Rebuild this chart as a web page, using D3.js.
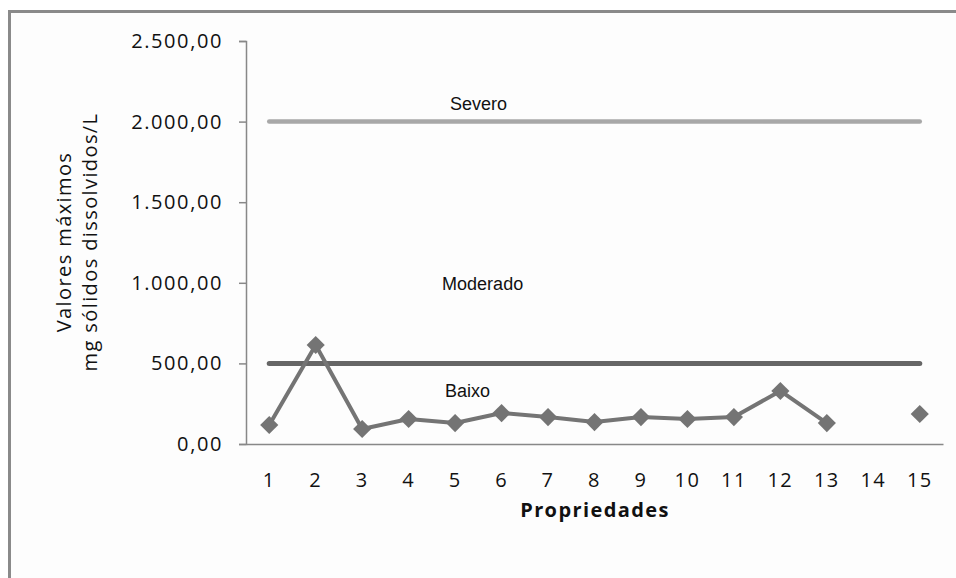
<!DOCTYPE html>
<html>
<head>
<meta charset="utf-8">
<script src="https://cdn.jsdelivr.net/npm/d3@7"></script>
<style>
  body { margin: 0; background: #fff; }
  svg { display: block; }
  .tick text, .axis-title { font-family: "Open Sans", sans-serif; fill: #111; }
  .zone { font-family: "Liberation Sans", Arial, sans-serif; font-size: 18px; fill: #111; }
</style>
</head>
<body>
<svg width="956" height="578"></svg>
<script>
// data
const propriedades = ['1', '2', '3', '4', '5', '6', '7', '8', '9', '10', '11', '12', '13', '14', '15']
const valores = [118, 614, 93, 155, 130, 192, 167, 136, 167, 155, 167, 329, 130, null, 186]
const severo = [2000, 2000, 2000, 2000, 2000, 2000, 2000, 2000, 2000, 2000, 2000, 2000, 2000, 2000, 2000]
const moderado = [500, 500, 500, 500, 500, 500, 500, 500, 500, 500, 500, 500, 500, 500, 500]
const yTicks = [0, 500, 1000, 1500, 2000, 2500]
const zonas = [
  { label: 'Severo', value: 2072 },
  { label: 'Moderado', value: 955 },
  { label: 'Baixo', value: 292 }
]

const svg = d3.select('svg')
const width = +svg.attr('width')
const height = +svg.attr('height')

const ptBR = d3.formatLocale({ decimal: ',', thousands: '.', grouping: [3], currency: ['R$', ''] })
const fmt = ptBR.format(',.2f')

// outer frame, cut off at right and bottom
svg.append('rect')
  .attr('x', 9.5).attr('y', 11.5)
  .attr('width', width + 20).attr('height', height + 20)
  .attr('fill', '#fdfdfd')
  .attr('stroke', '#8a8a8a').attr('stroke-width', 3)

const x = d3.scaleBand().domain(propriedades).range([246, 943])
const y = d3.scaleLinear().domain([0, 2500]).range([444, 41])
const cx = d => x(d) + x.bandwidth() / 2

// y axis
const yAxis = svg.append('g')
  .attr('transform', 'translate(246,0)')
  .call(d3.axisLeft(y).tickValues(yTicks).tickFormat(fmt).tickSize(7).tickPadding(16))
yAxis.select('.domain').attr('stroke', '#888').attr('stroke-width', 1.5)
yAxis.selectAll('.tick line').attr('stroke', '#888').attr('stroke-width', 1.5)
yAxis.selectAll('.tick text').attr('font-size', 20).style('letter-spacing', '1.6px')

// x axis
const xAxis = svg.append('g')
  .attr('transform', 'translate(0,444)')
  .call(d3.axisBottom(x).tickSize(0).tickPadding(29))
xAxis.select('.domain').attr('stroke', '#888').attr('stroke-width', 1.5)
xAxis.selectAll('.tick text').attr('font-size', 20).style('letter-spacing', '1.4px')

// axis titles
const yTitle = svg.append('text')
  .attr('class', 'axis-title')
  .attr('transform', 'translate(0,242) rotate(-90)')
  .attr('text-anchor', 'middle')
  .attr('font-size', 20)
  .style('letter-spacing', '1.4px')
yTitle.append('tspan').attr('x', 0).attr('y', 71).text('Valores máximos')
yTitle.append('tspan').attr('x', 0).attr('y', 97).text('mg sólidos dissolvidos/L')

svg.append('text')
  .attr('class', 'axis-title')
  .attr('x', 595).attr('y', 517)
  .attr('text-anchor', 'middle')
  .attr('font-size', 20)
  .attr('font-weight', 'bold')
  .style('letter-spacing', '1.4px')
  .text('Propriedades')

// limit lines
const limitLine = d3.line().x((d, i) => cx(propriedades[i])).y(d => y(d))

svg.append('path')
  .datum(severo)
  .attr('d', limitLine)
  .attr('fill', 'none')
  .attr('stroke', '#a8a8a8')
  .attr('stroke-width', 4.5)
  .attr('stroke-linecap', 'round')

svg.append('path')
  .datum(moderado)
  .attr('d', limitLine)
  .attr('fill', 'none')
  .attr('stroke', '#666')
  .attr('stroke-width', 5)
  .attr('stroke-linecap', 'round')

// zone labels
svg.selectAll('.zone').data(zonas).enter().append('text')
  .attr('class', 'zone')
  .attr('x', d => cx('5') + (d.label === 'Severo' ? -5 : d.label === 'Moderado' ? -13 : -10))
  .attr('y', d => y(d.value))
  .text(d => d.label)

// series
const serie = propriedades.map((p, i) => ({ p, v: valores[i] }))

svg.append('path')
  .datum(serie)
  .attr('d', d3.line().defined(d => d.v != null).x(d => cx(d.p)).y(d => y(d.v)))
  .attr('fill', 'none')
  .attr('stroke', '#747474')
  .attr('stroke-width', 4)
  .attr('stroke-linejoin', 'round')

svg.append('g').selectAll('path')
  .data(serie.filter(d => d.v != null)).enter().append('path')
  .attr('d', d3.symbol(d3.symbolSquare, 165))
  .attr('transform', d => `translate(${cx(d.p)},${y(d.v)}) rotate(45)`)
  .attr('fill', '#747474')
</script>
</body>
</html>
